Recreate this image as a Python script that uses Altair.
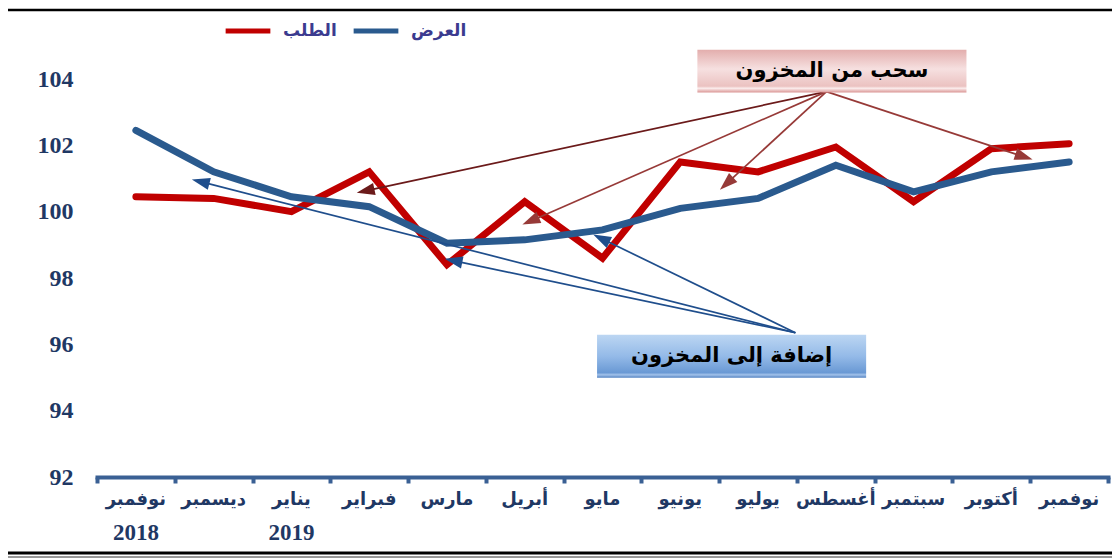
import math
import altair as alt
import pandas as pd

# ---------------- data ----------------
month_names = ["نوفمبر", "ديسمبر", "يناير", "فبراير", "مارس", "أبريل",
               "مايو", "يونيو", "يوليو", "أغسطس", "سبتمبر", "أكتوبر", "نوفمبر"]
year_labels = ["2018", "", "2019", "", "", "", "", "", "", "", "", "", ""]
demand = [100.45, 100.4, 100.0, 101.2, 98.4, 100.3, 98.6, 101.5, 101.2, 101.95, 100.3, 101.9, 102.05]
supply = [102.45, 101.2, 100.45, 100.15, 99.05, 99.15, 99.45, 100.1, 100.4, 101.4, 100.6, 101.2, 101.5]
series_names = ["الطلب", "العرض"]
series_colors = ["#C00000", "#2A5A8E"]
y_ticks = [92, 94, 96, 98, 100, 102, 104]

# annotations (data units: x = month index, y = index value)
withdraw_text = "سحب من المخزون"
withdraw_box = [7.22, 10.68, 104.88, 103.59]
withdraw_origin = [8.88, 103.62]
withdraw_tips_x = [2.84, 4.97, 7.51, 11.53]
withdraw_tips_y = [100.57, 99.61, 100.66, 101.57]
withdraw_colors = ["#6B1A1A", "#973A38", "#973A38", "#973A38"]

add_text = "إضافة إلى المخزون"
add_box = [5.93, 9.39, 96.29, 94.99]
add_origin = [8.48, 96.35]
add_tips_x = [0.72, 3.97, 5.88]
add_tips_y = [100.97, 98.58, 99.31]
add_colors = ["#1F4E8C", "#1F4E8C", "#1F4E8C"]

# ---------------- layout ----------------
W, H = 1011, 398
X_DOM = [-0.5, 12.5]
Y_DOM = [92, 104]
PX_X = W / (X_DOM[1] - X_DOM[0])
PX_Y = H / (Y_DOM[1] - Y_DOM[0])
HEAD = 18  # arrow head length px

NAVY = "#1F3864"
AXIS_BLUE = "#3A6094"
AR_FONT = "Liberation Serif, DejaVu Sans"

xs = alt.Scale(domain=X_DOM, nice=False, zero=False)
ys = alt.Scale(domain=Y_DOM, nice=False, zero=False)

df = pd.DataFrame({
    "i": list(range(13)) * 2,
    "v": demand + supply,
    "s": [series_names[0]] * 13 + [series_names[1]] * 13,
})

x_axis = alt.Axis(
    values=[k - 0.5 for k in range(14)], labels=False,
    title=None, grid=False,
    domainColor=AXIS_BLUE, domainWidth=4, domainCap="square",
    tickColor=AXIS_BLUE, tickWidth=4, tickSize=6,
)
y_axis = alt.Axis(
    values=y_ticks, title=None, grid=False, domain=False, ticks=False,
    labelFont="Liberation Serif", labelFontSize=24, labelFontWeight="bold",
    labelColor=NAVY, labelPadding=24,
)

color = alt.Color(
    "s:N", scale=alt.Scale(domain=series_names, range=series_colors),
    legend=alt.Legend(
        orient="none", legendX=126, legendY=-73, direction="horizontal", title=None,
        symbolType="stroke", symbolStrokeWidth=5, symbolSize=2000,
        labelFont="DejaVu Sans", labelFontSize=17, labelFontWeight="bold",
        labelColor="#3B3B8F", columnPadding=6, labelOffset=10,
    ),
)

base = alt.Chart(df).encode(
    x=alt.X("i:Q", scale=xs, axis=x_axis),
    y=alt.Y("v:Q", scale=ys, axis=y_axis),
    color=color,
)
line_d = base.transform_filter(alt.datum.s == series_names[0]).mark_line(
    strokeWidth=7, strokeCap="round", strokeJoin="miter")
line_s = base.transform_filter(alt.datum.s == series_names[1]).mark_line(
    strokeWidth=7, strokeCap="round", strokeJoin="miter")

# month / year labels under the axis
lab_df = pd.DataFrame({"i": list(range(13)), "m": month_names, "yr": year_labels})
month_text = alt.Chart(lab_df).mark_text(
    font=AR_FONT, fontSize=18, fontWeight="bold", color=NAVY, baseline="top", align="center",
).encode(x=alt.X("i:Q", scale=xs), y=alt.value(H + 14), text="m:N")
year_text = alt.Chart(lab_df).mark_text(
    font="Liberation Serif", fontSize=23, fontWeight="bold", color=NAVY, baseline="top",
    align="center",
).encode(x=alt.X("i:Q", scale=xs), y=alt.value(H + 45), text="yr:N")


def arrow_frame(origin, tips_x, tips_y, colors):
    rows = []
    for tx, ty, c in zip(tips_x, tips_y, colors):
        dx = (tx - origin[0]) * PX_X
        dy = -(ty - origin[1]) * PX_Y
        L = math.hypot(dx, dy)
        ux, uy = dx / L, dy / L
        ang = math.degrees(math.atan2(ux, -uy)) % 360
        half = HEAD / 2
        cx = tx - ux * half / PX_X
        cy = ty + uy * half / PX_Y
        bx = tx - ux * (HEAD - 2) / PX_X
        by = ty + uy * (HEAD - 2) / PX_Y
        rows.append(dict(x=origin[0], y=origin[1], x2=bx, y2=by, cx=cx, cy=cy, ang=ang, c=c))
    return pd.DataFrame(rows)


arrows = pd.concat([
    arrow_frame(withdraw_origin, withdraw_tips_x, withdraw_tips_y, withdraw_colors),
    arrow_frame(add_origin, add_tips_x, add_tips_y, add_colors),
], ignore_index=True)

arrow_lines = alt.Chart(arrows).mark_rule(strokeWidth=1.7).encode(
    x=alt.X("x:Q", scale=xs), y=alt.Y("y:Q", scale=ys),
    x2="x2:Q", y2="y2:Q", stroke=alt.Stroke("c:N", scale=None),
)
arrow_heads = alt.Chart(arrows).mark_point(
    shape="M0,-1L0.68,1L-0.68,1Z", filled=True, opacity=1, size=HEAD * HEAD, strokeWidth=0,
).encode(
    x=alt.X("cx:Q", scale=xs), y=alt.Y("cy:Q", scale=ys),
    angle=alt.Angle("ang:Q", scale=None), fill=alt.Fill("c:N", scale=None),
)

boxes = pd.DataFrame({
    "x": [withdraw_box[0], add_box[0]], "x2": [withdraw_box[1], add_box[1]],
    "y": [withdraw_box[2], add_box[2]], "y2": [withdraw_box[3], add_box[3]],
    "t": [withdraw_text, add_text],
})
pink = alt.Gradient(gradient="linear", x1=0, x2=0, y1=0, y2=1, stops=[
    alt.GradientStop(offset=0, color="#E3AEAD"),
    alt.GradientStop(offset=0.45, color="#F6E0E0"),
    alt.GradientStop(offset=0.85, color="#EBC2C1"),
    alt.GradientStop(offset=0.9, color="#FBEDED"),
    alt.GradientStop(offset=1, color="#D99392"),
])
blue = alt.Gradient(gradient="linear", x1=0, x2=0, y1=0, y2=1, stops=[
    alt.GradientStop(offset=0, color="#BCD6F2"),
    alt.GradientStop(offset=0.5, color="#94BAE8"),
    alt.GradientStop(offset=0.88, color="#6A99D4"),
    alt.GradientStop(offset=0.93, color="#A3C2EA"),
    alt.GradientStop(offset=1, color="#4F7FBF"),
])


def box_layer(k, grad):
    src = alt.Chart(boxes.iloc[[k]])
    rect = src.mark_rect(fill=grad).encode(
        x=alt.X("x:Q", scale=xs), x2="x2:Q", y=alt.Y("y:Q", scale=ys), y2="y2:Q")
    txt = src.transform_calculate(
        mx="(datum.x + datum.x2) / 2", my="(datum.y + datum.y2) / 2"
    ).mark_text(font="DejaVu Sans", fontSize=21, fontWeight="bold", color="#000000",
                baseline="middle", align="center").encode(
        x=alt.X("mx:Q", scale=xs), y=alt.Y("my:Q", scale=ys), text="t:N")
    return rect + txt


one = pd.DataFrame({"k": [0]})
frame_top = alt.Chart(one).mark_rule(color="#000000", strokeWidth=2.5).encode(
    x=alt.value(-89), x2=alt.value(W + 4), y=alt.value(-69))
frame_bot = alt.Chart(one).mark_rule(color="#000000", strokeWidth=3).encode(
    x=alt.value(-89), x2=alt.value(W + 4), y=alt.value(474))
frame_bot2 = alt.Chart(one).mark_rule(color="#333333", strokeWidth=1).encode(
    x=alt.value(-89), x2=alt.value(W + 4), y=alt.value(478))

chart = alt.layer(
    line_d, line_s, arrow_lines, arrow_heads,
    box_layer(0, pink), box_layer(1, blue), month_text, year_text,
    frame_top, frame_bot, frame_bot2,
).properties(
    width=W, height=H, autosize="none",
    padding={"left": 89, "top": 71, "right": 4, "bottom": 81},
    background="#FFFFFF",
).configure_view(stroke=None)

chart.save("out.html", embed_options={"renderer": "svg", "actions": False})
